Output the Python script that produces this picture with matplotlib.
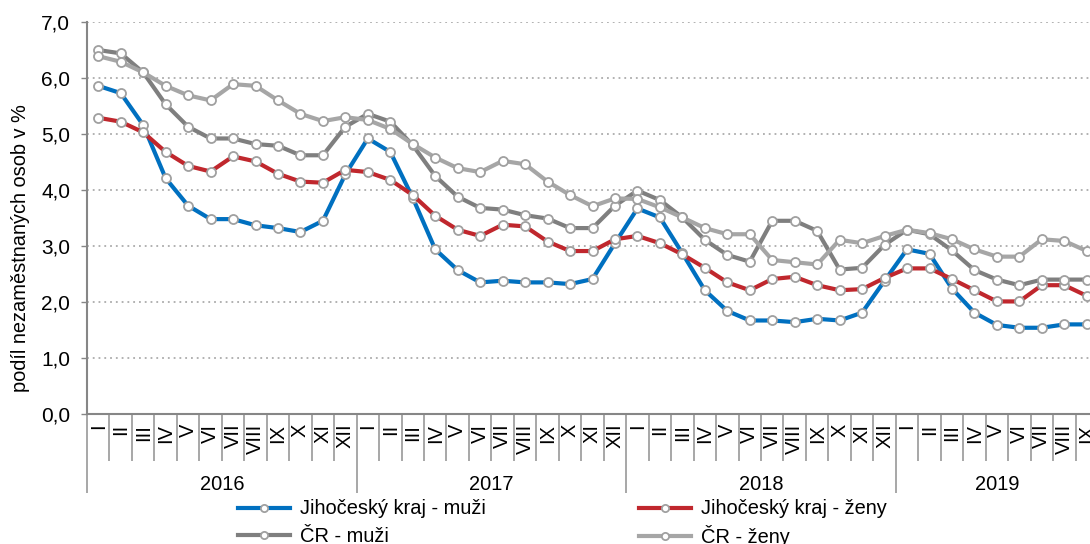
import matplotlib
matplotlib.use("Agg")
import matplotlib.pyplot as plt
from matplotlib.ticker import FixedLocator, NullFormatter

plt.rcParams['font.family'] = ['Liberation Sans', 'DejaVu Sans']

years = ["2016", "2017", "2018", "2019"]
months_per_year = [12, 12, 12, 9]
month_names = ["I", "II", "III", "IV", "V", "VI", "VII", "VIII", "IX", "X", "XI", "XII"]

jc_muzi = [5.86, 5.73, 5.16, 4.21, 3.72, 3.48, 3.48, 3.37, 3.32, 3.25, 3.45, 4.28,
           4.92, 4.68, 3.86, 2.94, 2.57, 2.35, 2.38, 2.35, 2.35, 2.32, 2.41, 3.05,
           3.67, 3.51, 2.87, 2.21, 1.84, 1.67, 1.67, 1.64, 1.70, 1.67, 1.81, 2.38,
           2.94, 2.86, 2.24, 1.81, 1.59, 1.54, 1.54, 1.60, 1.60]
jc_zeny = [5.29, 5.22, 5.03, 4.68, 4.43, 4.33, 4.60, 4.51, 4.29, 4.15, 4.13, 4.36,
           4.32, 4.18, 3.91, 3.54, 3.29, 3.18, 3.38, 3.35, 3.08, 2.91, 2.91, 3.12,
           3.18, 3.05, 2.85, 2.61, 2.35, 2.21, 2.41, 2.45, 2.30, 2.21, 2.23, 2.43,
           2.60, 2.60, 2.41, 2.21, 2.01, 2.01, 2.30, 2.30, 2.11]
cr_muzi = [6.50, 6.44, 6.10, 5.53, 5.13, 4.92, 4.92, 4.82, 4.79, 4.62, 4.62, 5.13,
           5.36, 5.22, 4.80, 4.25, 3.88, 3.68, 3.65, 3.55, 3.49, 3.32, 3.32, 3.72,
           3.99, 3.82, 3.51, 3.11, 2.84, 2.72, 3.45, 3.45, 3.27, 2.58, 2.61, 3.02,
           3.29, 3.21, 2.92, 2.57, 2.40, 2.30, 2.40, 2.40, 2.40]
cr_zeny = [6.39, 6.29, 6.10, 5.86, 5.69, 5.60, 5.89, 5.86, 5.60, 5.36, 5.23, 5.30,
           5.25, 5.09, 4.82, 4.58, 4.39, 4.32, 4.52, 4.46, 4.15, 3.91, 3.71, 3.85,
           3.84, 3.69, 3.51, 3.32, 3.21, 3.21, 2.75, 2.71, 2.67, 3.11, 3.05, 3.18,
           3.29, 3.23, 3.12, 2.94, 2.81, 2.81, 3.12, 3.09, 2.91]

series_labels = ["Jihočeský kraj - muži", "Jihočeský kraj - ženy", "ČR - muži", "ČR - ženy"]
series_colors = ["#0070C0", "#C0272D", "#7F7F7F", "#A6A6A6"]
ytick_labels = ["0,0", "1,0", "2,0", "3,0", "4,0", "5,0", "6,0", "7,0"]

W, H = 1090, 544
fig = plt.figure(figsize=(W / 100, H / 100), dpi=100)
left_px, right_px, top_px, bottom_px = 87, 1098, 22, 414
ax = fig.add_axes([left_px / W, 1 - bottom_px / H, (right_px - left_px) / W, (bottom_px - top_px) / H])

n = len(jc_muzi)
xs = list(range(n))
lines = []
for vals, lab, col in zip([jc_muzi, jc_zeny, cr_muzi, cr_zeny], series_labels, series_colors):
    ln, = ax.plot(xs, vals, color=col, lw=3.0, marker='o', markersize=6.5,
                  markerfacecolor='white', markeredgecolor='#A0A0A0', markeredgewidth=1.3,
                  label=lab, clip_on=True)
    lines.append(ln)

ax.set_ylim(0, 7)
ax.set_xlim(-0.5, n - 0.5)
ax.set_yticks(range(8))
ax.set_yticklabels(ytick_labels)
ax.tick_params(axis='y', length=4, width=1, color='#868686', pad=8, labelsize=15, labelcolor='black')
for v in range(1, 8):
    ax.axhline(v, color='#ABABAB', lw=1.3, linestyle=(0, (1, 2.2)), zorder=0)

for s in ['top', 'right']:
    ax.spines[s].set_visible(False)
for s in ['left', 'bottom']:
    ax.spines[s].set_color('#868686')
    ax.spines[s].set_linewidth(1.5)

# x-axis: month and year separators
bounds = [-0.5]
for m in months_per_year:
    bounds.append(bounds[-1] + m)
month_bounds = [i - 0.5 for i in range(n + 1)]
ax.xaxis.set_major_locator(FixedLocator(bounds))
ax.xaxis.set_minor_locator(FixedLocator(month_bounds))
ax.xaxis.set_major_formatter(NullFormatter())
ax.xaxis.set_minor_formatter(NullFormatter())
ax.tick_params(axis='x', which='major', length=57, width=1.3, color='#A0A0A0', direction='out')
ax.tick_params(axis='x', which='minor', length=34, width=1.3, color='#A0A0A0', direction='out')

i = 0
for yr, m in zip(years, months_per_year):
    for k in range(m):
        ax.annotate(month_names[k], xy=(i + k, 0), xycoords=('data', 'axes fraction'),
                    xytext=(0, -7), textcoords='offset points', rotation=90,
                    ha='center', va='top', fontsize=14.4, annotation_clip=False)
    ax.annotate(yr, xy=(i + (m - 1) / 2, 0), xycoords=('data', 'axes fraction'),
                xytext=(0, -50.5), textcoords='offset points', ha='center', va='center',
                fontsize=14.4, annotation_clip=False)
    i += m

fig.text(21 / W, 1 - 248 / H, "podíl nezaměstnaných osob v %", rotation=90,
         ha='center', va='center', fontsize=14.4)

# legend: one entry per slot so rows align exactly
slots = [(238, 509), (639, 509), (238, 536), (639, 536)]
for k, (px, py) in enumerate(slots):
    leg = fig.legend([lines[k]], [series_labels[k]], loc='center left',
                     bbox_to_anchor=(px / W, 1 - py / H), frameon=False,
                     fontsize=14.4, handlelength=2.6, handletextpad=0.5,
                     borderpad=0, borderaxespad=0, numpoints=1, markerscale=0.8)

fig.savefig("out.png", dpi=100)
